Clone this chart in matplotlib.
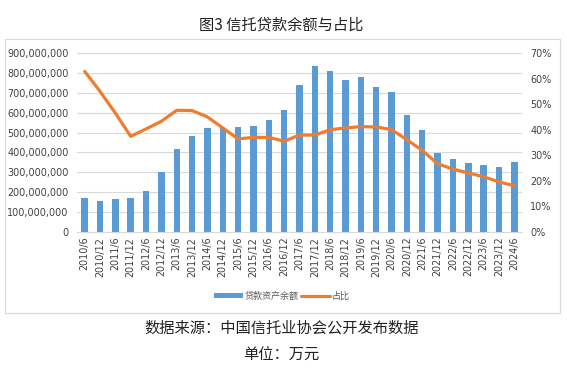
import matplotlib
matplotlib.use("Agg")
import matplotlib.pyplot as plt
from matplotlib.patches import Rectangle
from matplotlib.ticker import FuncFormatter, MultipleLocator

plt.rcParams['font.family'] = ['Noto Sans CJK SC', 'DejaVu Sans']

periods = ["2010/6", "2010/12", "2011/6", "2011/12", "2012/6", "2012/12", "2013/6", "2013/12",
           "2014/6", "2014/12", "2015/6", "2015/12", "2016/6", "2016/12", "2017/6", "2017/12",
           "2018/6", "2018/12", "2019/6", "2019/12", "2020/6", "2020/12", "2021/6", "2021/12",
           "2022/6", "2022/12", "2023/6", "2023/12", "2024/6"]
loans = [173e6, 157e6, 168e6, 173e6, 208e6, 300e6, 419e6, 484e6,
         524e6, 523e6, 530e6, 535e6, 565e6, 615e6, 740e6, 836e6,
         811e6, 766e6, 781e6, 730e6, 705e6, 590e6, 514e6, 399e6,
         369e6, 348e6, 338e6, 328e6, 353e6]
share = [62.8, 55.0, 46.5, 37.4, 40.3, 43.3, 47.6, 47.5,
         45.0, 40.7, 36.4, 37.0, 37.0, 35.5, 37.9, 37.9,
         40.0, 40.7, 41.2, 41.1, 40.0, 36.1, 31.9, 26.7,
         24.6, 23.1, 21.6, 19.6, 18.1]

bar_label = "贷款资产余额"
line_label = "占比"
title = "图3 信托贷款余额与占比"
source = "数据来源：中国信托业协会公开发布数据"
unit = "单位：万元"

W, H = 567, 374
fig = plt.figure(figsize=(W / 100, H / 100), dpi=100)
fig.patch.set_facecolor("white")

# chart frame
fig.patches.append(Rectangle((5 / W, 1 - 313 / H), 555 / W, 274 / H, transform=fig.transFigure,
                             fill=False, edgecolor="#D9D9D9", linewidth=0.8))

ax = fig.add_axes([77 / W, 1 - 232 / H, 445 / W, 179 / H])
x = list(range(len(periods)))
ax.bar(x, loans, width=0.42, color="#5B9BD5", zorder=2, label=bar_label)
ax.set_ylim(0, 900e6)
ax.set_xlim(-0.5, len(periods) - 0.5)
ax.yaxis.set_major_locator(MultipleLocator(100e6))
ax.yaxis.set_major_formatter(FuncFormatter(lambda v, p: f"{int(round(v)):,}"))
ax.grid(axis="y", color="#D9D9D9", linewidth=0.8, zorder=0)
ax.set_axisbelow(True)
for s in ["top", "right", "left"]:
    ax.spines[s].set_visible(False)
ax.spines["bottom"].set_color("#D9D9D9")
ax.spines["bottom"].set_linewidth(0.8)
ax.tick_params(axis="both", length=0, colors="#404040", labelsize=6.9)
ax.tick_params(axis="y", pad=6)
ax.set_xticks(x)
ax.set_xticklabels(periods, rotation=90, fontsize=6.9, color="#404040", family="DejaVu Sans")
for lab in ax.get_yticklabels():
    lab.set_family("DejaVu Sans")

ax2 = ax.twinx()
ax2.plot(x, share, color="#ED7D31", linewidth=2.3, zorder=3, label=line_label, solid_capstyle="round")
ax2.set_ylim(0, 70)
ax2.yaxis.set_major_locator(MultipleLocator(10))
ax2.yaxis.set_major_formatter(FuncFormatter(lambda v, p: f"{int(round(v))}%"))
for s in ["top", "right", "left", "bottom"]:
    ax2.spines[s].set_visible(False)
ax2.tick_params(axis="y", length=0, colors="#404040", labelsize=6.9, pad=6)
for lab in ax2.get_yticklabels():
    lab.set_family("DejaVu Sans")

h1, l1 = ax.get_legend_handles_labels()
h2, l2 = ax2.get_legend_handles_labels()
leg = fig.legend(h1 + h2, l1 + l2, loc="center", bbox_to_anchor=(282 / W, 1 - 296 / H), ncol=2,
                 frameon=False, fontsize=6.5, handlelength=3.2, handleheight=0.5,
                 columnspacing=0.3, handletextpad=0.2, labelcolor="#595959")

fig.text(281 / W, 1 - 25 / H, title, ha="center", va="center", fontsize=11, color="#222222")
fig.text(282 / W, 1 - 328 / H, source, ha="center", va="center", fontsize=11, color="#222222")
fig.text(281 / W, 1 - 355 / H, unit, ha="center", va="center", fontsize=11, color="#222222")

fig.savefig("out.png", dpi=100, facecolor="white")
